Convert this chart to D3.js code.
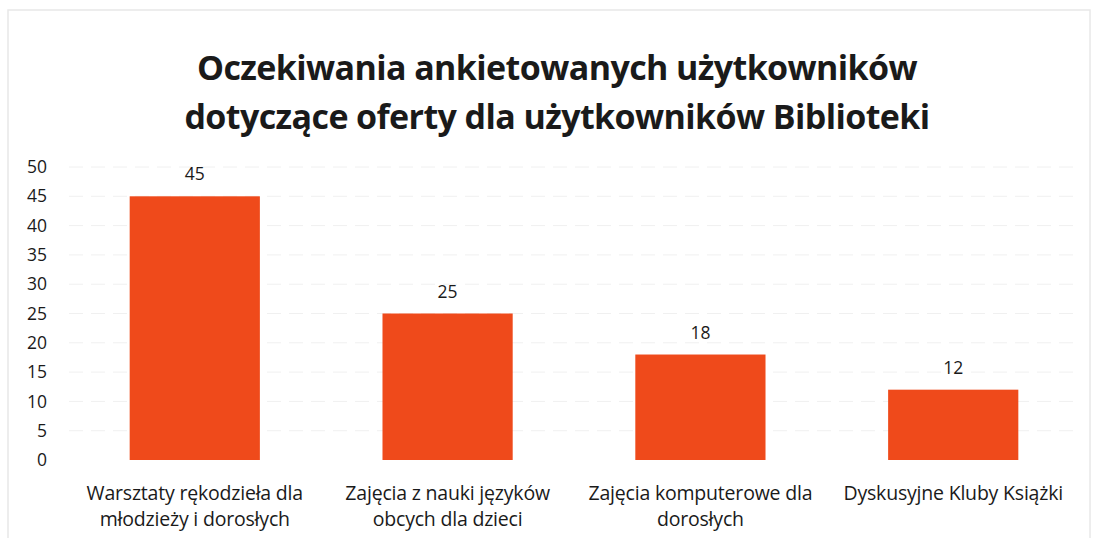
<!DOCTYPE html>
<html>
<head>
<meta charset="utf-8">
<script src="https://cdn.jsdelivr.net/npm/d3@7"></script>
<style>
  body { margin: 0; background: #fff; }
  text { font-family: "Open Sans", "Noto Sans", sans-serif; fill: #1a1a1a; }
</style>
</head>
<body>
<svg id="chart" width="1095" height="538"></svg>
<script>
// data
const titleLines = ['Oczekiwania ankietowanych użytkowników', 'dotyczące oferty dla użytkowników Biblioteki']
const categories = [
  ['Warsztaty rękodzieła dla', 'młodzieży i dorosłych'],
  ['Zajęcia z nauki języków', 'obcych dla dzieci'],
  ['Zajęcia komputerowe dla', 'dorosłych'],
  ['Dyskusyjne Kluby Książki']
]
const values = [45, 25, 18, 12]
const yTicks = [0, 5, 10, 15, 20, 25, 30, 35, 40, 45, 50]

const svg = d3.select('#chart')
const margin = {top: 167, right: 16, bottom: 78, left: 69}
const width = 1095 - margin.left - margin.right
const height = 538 - margin.top - margin.bottom

// faint scanned border
svg.append('rect')
  .attr('x', 8).attr('y', 10).attr('width', 1082).attr('height', 540)
  .attr('fill', 'none').attr('stroke', '#e8e8e8').attr('stroke-width', 1.5)

// title
svg.append('g').selectAll('text')
  .data(titleLines)
  .join('text')
    .attr('x', 557)
    .attr('y', (d, i) => 80 + i * 49)
    .attr('text-anchor', 'middle')
    .attr('font-size', 34)
    .attr('font-weight', 'bold')
    .attr('letter-spacing', -0.6)
    .text(d => d)

const chart = svg.append('g')
  .attr('transform', `translate(${margin.left}, ${margin.top})`)

const xScale = d3.scaleBand()
  .domain(d3.range(categories.length))
  .range([0, width])
  .paddingInner(0.485)
  .paddingOuter(0.24)

const yScale = d3.scaleLinear()
  .domain([0, 50])
  .range([height, 0])

// gridlines
chart.append('g').selectAll('line')
  .data(yTicks.slice(1))
  .join('line')
    .attr('x1', 0).attr('x2', width)
    .attr('y1', d => yScale(d)).attr('y2', d => yScale(d))
    .attr('stroke', '#f0f0f0')
    .attr('stroke-dasharray', '14,8')

// y axis labels
const yAxis = d3.axisLeft(yScale).tickValues(yTicks).tickSize(0).tickPadding(22)
chart.append('g')
  .call(yAxis)
  .call(g => g.select('.domain').remove())
  .call(g => g.selectAll('text')
    .attr('font-size', 17.5)
    .attr('fill', '#1a1a1a')
    .style('font-family', '"Open Sans", sans-serif'))

// bars
chart.selectAll('.bar')
  .data(values)
  .join('rect')
    .attr('class', 'bar')
    .attr('x', (d, i) => xScale(i))
    .attr('y', d => yScale(d))
    .attr('width', xScale.bandwidth())
    .attr('height', d => height - yScale(d))
    .attr('fill', '#ef4a1b')

// value labels
chart.selectAll('.val')
  .data(values)
  .join('text')
    .attr('class', 'val')
    .attr('x', (d, i) => xScale(i) + xScale.bandwidth() / 2)
    .attr('y', d => yScale(d) - 16)
    .attr('text-anchor', 'middle')
    .attr('font-size', 17.5)
    .text(d => d)

// category labels
const catG = chart.selectAll('.cat')
  .data(categories)
  .join('text')
    .attr('class', 'cat')
    .attr('x', (d, i) => xScale(i) + xScale.bandwidth() / 2)
    .attr('y', height + 40)
    .attr('text-anchor', 'middle')
    .attr('font-size', 19.5)
    .attr('letter-spacing', -0.2)
catG.selectAll('tspan')
  .data(d => d)
  .join('tspan')
    .attr('x', function() { return d3.select(this.parentNode).attr('x') })
    .attr('dy', (d, i) => i === 0 ? 0 : 26)
    .text(d => d)
</script>
</body>
</html>
